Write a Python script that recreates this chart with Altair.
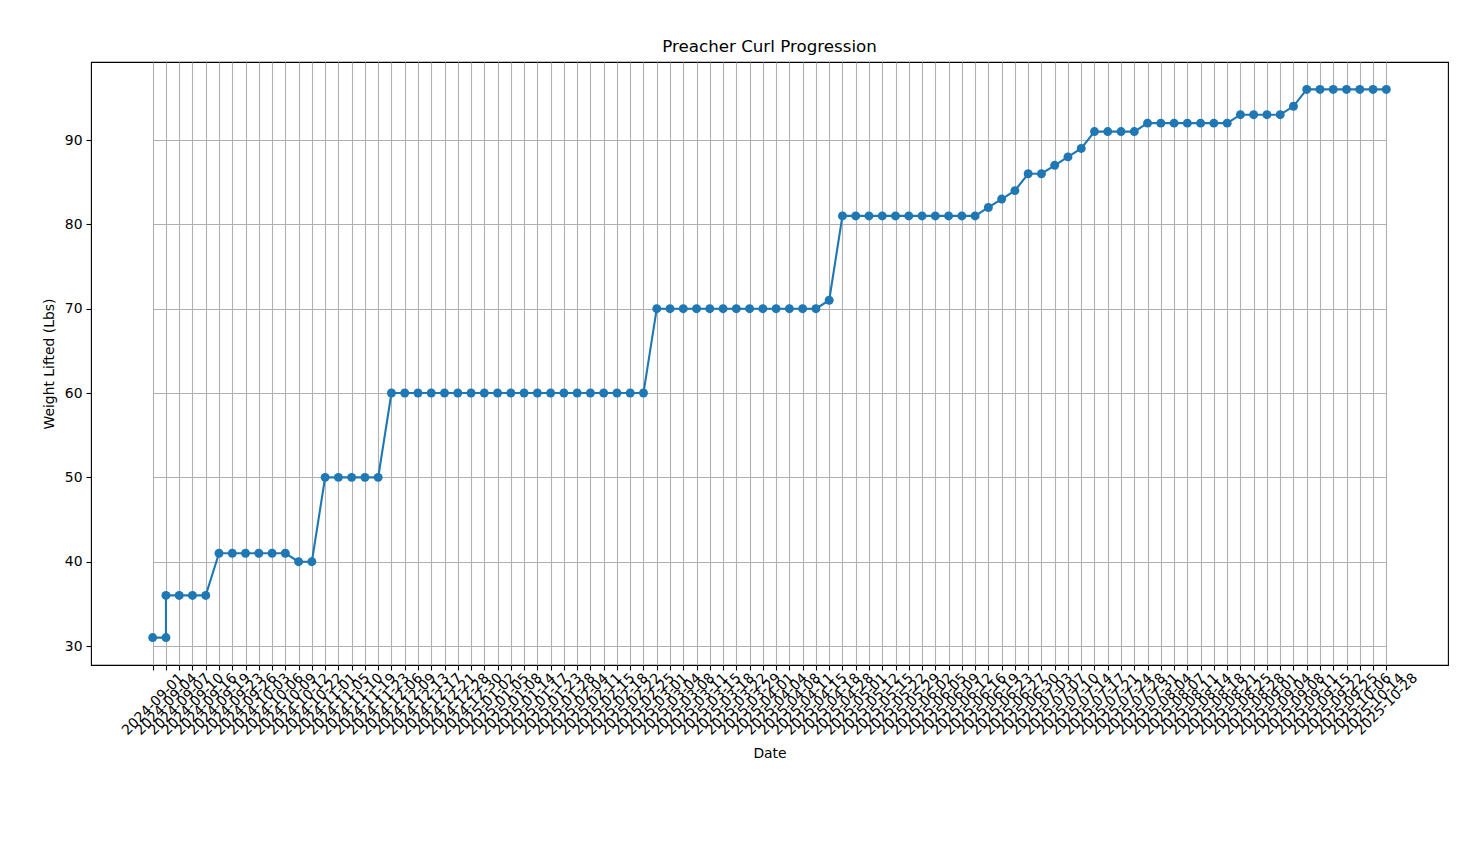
import altair as alt
import pandas as pd

dates = [
    "2024-09-01", "2024-09-04", "2024-09-04", "2024-09-07", "2024-09-10", "2024-09-16",
    "2024-09-19", "2024-09-23", "2024-09-26", "2024-10-03", "2024-10-06", "2024-10-09",
    "2024-10-12", "2024-10-22",
    "2024-11-01", "2024-11-05", "2024-11-10", "2024-11-19", "2024-11-23",
    "2024-12-06", "2024-12-09", "2024-12-13", "2024-12-17", "2024-12-21", "2024-12-28",
    "2024-12-30", "2025-01-02", "2025-01-05", "2025-01-08", "2025-01-14", "2025-01-17",
    "2025-01-23", "2025-01-28", "2025-02-04", "2025-02-11", "2025-02-15", "2025-02-18",
    "2025-02-22", "2025-02-25",
    "2025-03-01", "2025-03-04", "2025-03-08", "2025-03-11", "2025-03-15", "2025-03-18",
    "2025-03-22", "2025-03-29", "2025-04-01", "2025-04-04", "2025-04-08", "2025-04-11",
    "2025-04-15",
    "2025-04-18",
    "2025-04-28", "2025-05-01", "2025-05-12", "2025-05-15", "2025-05-22", "2025-05-29",
    "2025-06-02", "2025-06-05", "2025-06-09", "2025-06-12", "2025-06-16",
    "2025-06-19", "2025-06-23", "2025-06-27", "2025-06-30", "2025-07-03", "2025-07-07",
    "2025-07-10", "2025-07-14",
    "2025-07-17", "2025-07-21", "2025-07-24", "2025-07-28",
    "2025-07-31", "2025-08-04", "2025-08-07", "2025-08-11", "2025-08-14", "2025-08-18",
    "2025-08-21",
    "2025-08-25", "2025-08-28", "2025-09-01", "2025-09-04",
    "2025-09-08",
    "2025-09-11", "2025-09-15", "2025-09-22", "2025-09-25", "2025-10-06", "2025-10-14",
    "2025-10-28",
]

weights = [
    31, 31, 36, 36, 36, 36,
    41, 41, 41, 41, 41, 41,
    40, 40,
    50, 50, 50, 50, 50,
    60, 60, 60, 60, 60, 60, 60, 60, 60, 60, 60, 60, 60, 60, 60, 60, 60, 60, 60, 60,
    70, 70, 70, 70, 70, 70, 70, 70, 70, 70, 70, 70, 70,
    71,
    81, 81, 81, 81, 81, 81, 81, 81, 81, 81, 81,
    82, 83, 84, 86, 86, 87, 88, 89,
    91, 91, 91, 91,
    92, 92, 92, 92, 92, 92, 92,
    93, 93, 93, 93,
    94,
    96, 96, 96, 96, 96, 96, 96,
]

y_ticks = [30, 40, 50, 60, 70, 80, 90]

df = pd.DataFrame({"Date": dates, "Weight": weights, "row": list(range(len(dates)))})
domain_dates = list(dict.fromkeys(dates))

BLUE = "#1f77b4"
FONT = "DejaVu Sans"
PLOT_W = 1357
PLOT_H = 603
# matplotlib-like 5% margin on both sides of the categorical axis
margin = PLOT_W * 0.05 / 1.1

base = alt.Chart(df).encode(
    x=alt.X(
        "Date:N",
        sort=domain_dates,
        scale=alt.Scale(type="point", domain=domain_dates, padding=0,
                        range=[margin, PLOT_W - margin]),
        axis=alt.Axis(
            title="Date",
            labelAngle=-45,
            labelAlign="center",
            labelBaseline="middle",
            labelOverlap=False,
            labelFontSize=13.9,
            labelColor="black",
            labelPadding=34,
            tickSize=5,
            tickColor="black",
            tickWidth=1.1,
            grid=True,
            gridColor="#b0b0b0",
            gridWidth=1.1,
            domain=False,
            titleFontSize=13.9,
            titleFontWeight="normal",
            titleColor="black",
            titlePadding=9,
        ),
    ),
    y=alt.Y(
        "Weight:Q",
        scale=alt.Scale(domain=[27.75, 99.25], nice=False, zero=False),
        axis=alt.Axis(
            title="Weight Lifted (Lbs)",
            values=y_ticks,
            labelFontSize=13.9,
            labelColor="black",
            labelPadding=4,
            tickSize=5,
            tickColor="black",
            tickWidth=1.1,
            grid=True,
            gridColor="#b0b0b0",
            gridWidth=1.1,
            domain=False,
            titleFontSize=13.9,
            titleFontWeight="normal",
            titleColor="black",
            titlePadding=8,
        ),
    ),
    order=alt.Order("row:Q"),
)

line = base.mark_line(color=BLUE, strokeWidth=2.1)
points = base.mark_point(filled=True, shape="circle", size=80, color=BLUE, opacity=1)

chart = (
    (line + points)
    .properties(
        width=PLOT_W,
        height=PLOT_H,
        title=alt.TitleParams(
            "Preacher Curl Progression",
            fontSize=16.7,
            fontWeight="normal",
            font=FONT,
            color="black",
            offset=6,
        ),
        autosize=alt.AutoSizeParams(type="none"),
        padding={"left": 83, "top": 54, "right": 14, "bottom": 160},
    )
    .configure(font=FONT)
    .configure_view(stroke="black", strokeWidth=1.1)
)

chart.save("out.html", embed_options={"renderer": "svg", "actions": False})
